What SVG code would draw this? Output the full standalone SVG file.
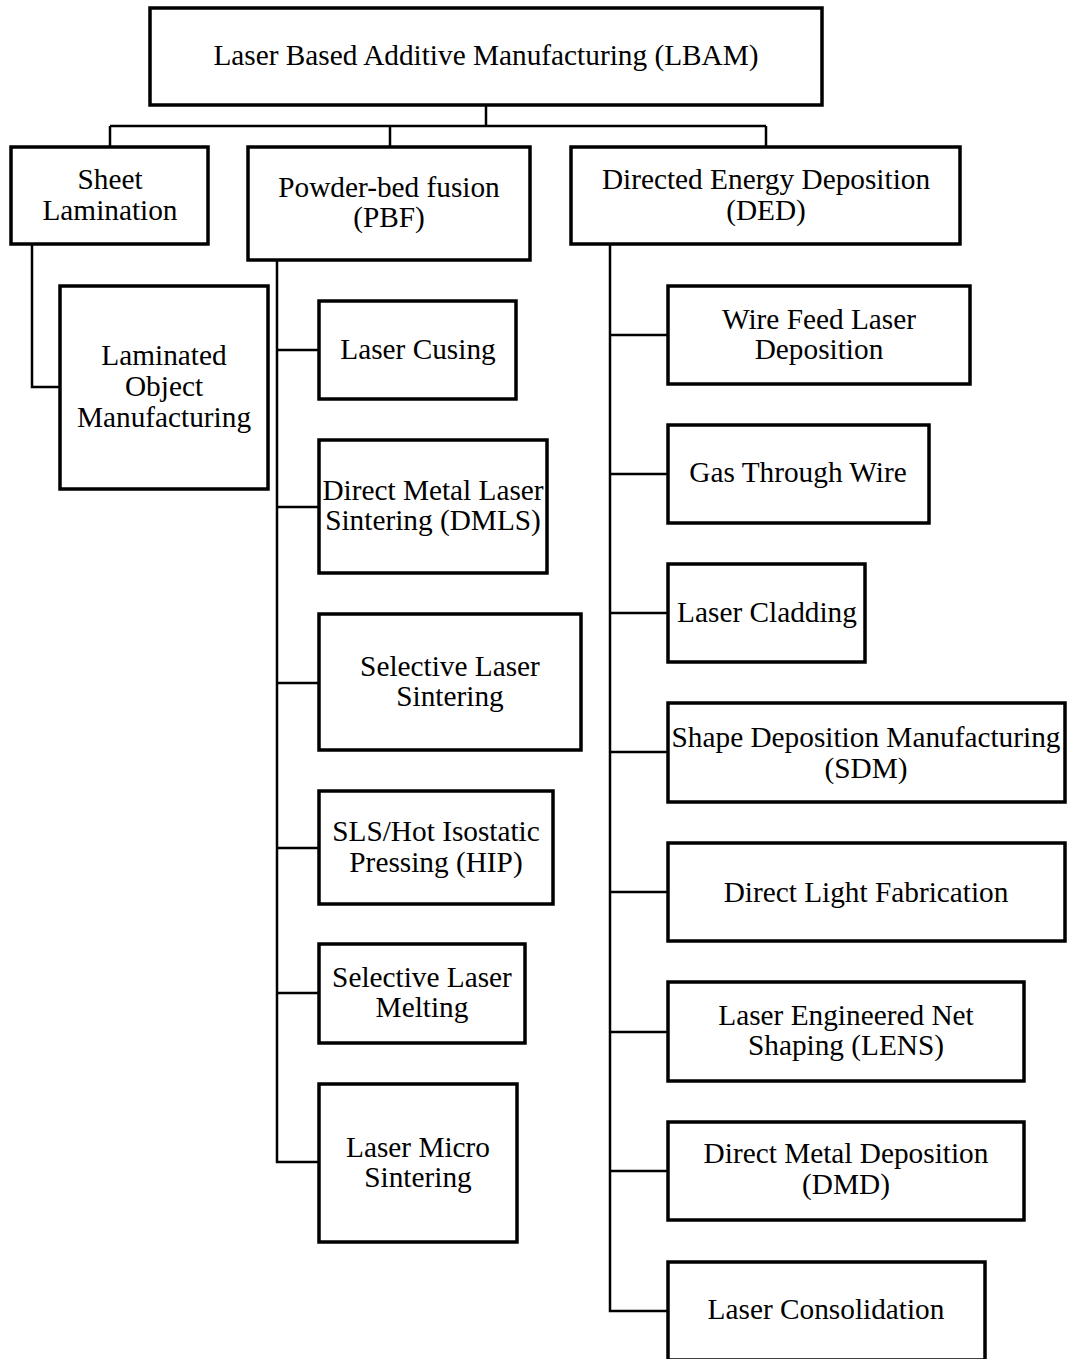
<svg xmlns="http://www.w3.org/2000/svg" width="1072" height="1359" viewBox="0 0 1072 1359">
<style>
.box{fill:#fff;stroke:#000;stroke-width:3.5}
.t{font-family:"Liberation Serif","Times New Roman",serif;font-size:29.3px;fill:#000;text-anchor:middle}
.c{fill:none;stroke:#000;stroke-width:2.5}
</style>
<rect width="1072" height="1359" fill="#fff"/>
<g id="connectors">
<path class="c" d="M486,105 V126 M110,126 H766 M110,126 V147 M390,126 V147 M766,126 V147"/>
<path class="c" d="M32,244 V387 H60"/>
<path class="c" d="M277,260 V1162 H319 M277,350 H319 M277,507 H319 M277,683 H319 M277,848 H319 M277,993 H319"/>
<path class="c" d="M610,244 V1311 H668 M610,335 H668 M610,474 H668 M610,613 H668 M610,752 H668 M610,892 H668 M610,1032 H668 M610,1171 H668"/>
</g>
<g id="lbam"><rect class="box" x="150" y="8" width="672" height="97"/><text class="t" x="486" y="65">Laser Based Additive Manufacturing (LBAM)</text></g>
<g id="sheet"><rect class="box" x="11" y="147" width="197" height="97"/><text class="t" x="110" y="189">Sheet</text><text class="t" x="110" y="220">Lamination</text></g>
<g id="pbf"><rect class="box" x="248" y="147" width="282" height="113"/><text class="t" x="389" y="197">Powder-bed fusion</text><text class="t" x="389" y="227">(PBF)</text></g>
<g id="ded"><rect class="box" x="571" y="147" width="389" height="97"/><text class="t" x="766" y="189">Directed Energy Deposition</text><text class="t" x="766" y="220">(DED)</text></g>
<g id="lom"><rect class="box" x="60" y="286" width="208" height="203"/><text class="t" x="164" y="365">Laminated</text><text class="t" x="164" y="396">Object</text><text class="t" x="164" y="427">Manufacturing</text></g>
<g id="cusing"><rect class="box" x="319" y="301" width="197" height="98"/><text class="t" x="418" y="359">Laser Cusing</text></g>
<g id="dmls"><rect class="box" x="319" y="440" width="228" height="133"/><text class="t" x="433" y="500">Direct Metal Laser</text><text class="t" x="433" y="530">Sintering (DMLS)</text></g>
<g id="sls"><rect class="box" x="319" y="614" width="262" height="136"/><text class="t" x="450" y="676">Selective Laser</text><text class="t" x="450" y="706">Sintering</text></g>
<g id="hip"><rect class="box" x="319" y="791" width="234" height="113"/><text class="t" x="436" y="841">SLS/Hot Isostatic</text><text class="t" x="436" y="872">Pressing (HIP)</text></g>
<g id="slm"><rect class="box" x="319" y="944" width="206" height="99"/><text class="t" x="422" y="987">Selective Laser</text><text class="t" x="422" y="1017">Melting</text></g>
<g id="lms"><rect class="box" x="319" y="1084" width="198" height="158"/><text class="t" x="418" y="1157">Laser Micro</text><text class="t" x="418" y="1187">Sintering</text></g>
<g id="wire"><rect class="box" x="668" y="286" width="302" height="98"/><text class="t" x="819" y="329">Wire Feed Laser</text><text class="t" x="819" y="359">Deposition</text></g>
<g id="gas"><rect class="box" x="668" y="425" width="261" height="98"/><text class="t" x="798" y="482">Gas Through Wire</text></g>
<g id="cladding"><rect class="box" x="668" y="564" width="197" height="98"/><text class="t" x="767" y="622">Laser Cladding</text></g>
<g id="sdm"><rect class="box" x="668" y="703" width="397" height="99"/><text class="t" x="866" y="747">Shape Deposition Manufacturing</text><text class="t" x="866" y="778">(SDM)</text></g>
<g id="dlf"><rect class="box" x="668" y="843" width="397" height="98"/><text class="t" x="866" y="902">Direct Light Fabrication</text></g>
<g id="lens"><rect class="box" x="668" y="982" width="356" height="99"/><text class="t" x="846" y="1025">Laser Engineered Net</text><text class="t" x="846" y="1055">Shaping (LENS)</text></g>
<g id="dmd"><rect class="box" x="668" y="1122" width="356" height="98"/><text class="t" x="846" y="1163">Direct Metal Deposition</text><text class="t" x="846" y="1194">(DMD)</text></g>
<g id="consolidation"><rect class="box" x="668" y="1262" width="317" height="98"/><text class="t" x="826" y="1319">Laser Consolidation</text></g>
</svg>
